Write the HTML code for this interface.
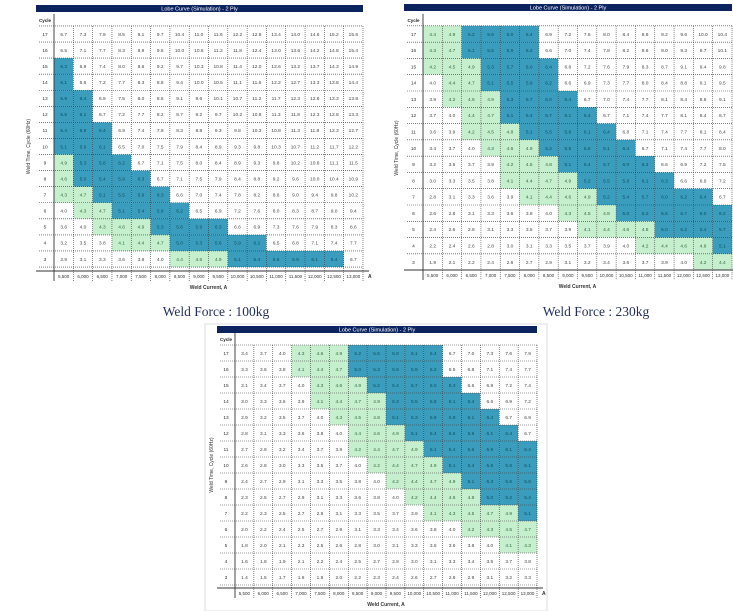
<!DOCTYPE html>
<html><head><meta charset="utf-8">
<style>
html,body{margin:0;padding:0;background:#fff;width:733px;height:611px;overflow:hidden}
svg{display:block}
text{font-family:"Liberation Sans",sans-serif}
.cap{font-family:"Liberation Serif",serif;font-size:13.5px;fill:#1f2d5a}
</style></head>
<body>
<svg id="chart" width="733" height="611" viewBox="0 0 733 611">
<rect x="205" y="324" width="342" height="287" fill="none" stroke="#ddd" stroke-width="1"/>
<text class="cap" x="216" y="316" text-anchor="middle">Weld Force : 100kg</text>
<text class="cap" x="596" y="316" text-anchor="middle">Weld Force : 230kg</text>
</svg>
<script>
const cycles = [17,16,15,14,13,12,11,10,9,8,7,6,5,4,3];
const currents = ["5,500","6,000","6,500","7,000","7,500","8,000","8,500","9,000","9,500","10,000","10,500","11,000","11,500","12,000","12,500","13,000"];
const greenMin = 4.1, tealMin = 5.0, tealMax = 6.4;
const values100 = [
[6.7,7.3,7.9,8.5,9.1,9.7,10.4,11.0,11.6,12.2,12.8,13.4,14.0,14.6,15.2,15.8],
[6.5,7.1,7.7,8.3,8.9,9.5,10.0,10.6,11.2,11.8,12.4,13.0,13.6,14.2,14.8,15.4],
[6.3,6.9,7.4,8.0,8.6,9.2,9.7,10.3,10.8,11.4,12.0,12.6,13.2,13.7,14.3,14.9],
[6.1,6.6,7.2,7.7,8.3,8.8,9.4,10.0,10.5,11.1,11.6,12.2,12.7,13.3,13.8,14.4],
[5.9,6.4,6.9,7.5,8.0,8.5,9.1,9.6,10.1,10.7,11.2,11.7,12.3,12.8,13.3,13.8],
[5.6,6.1,6.7,7.2,7.7,8.2,8.7,9.2,9.7,10.2,10.8,11.3,11.8,12.3,12.8,13.3],
[5.4,5.9,6.4,6.9,7.4,7.9,8.3,8.8,9.3,9.8,10.3,10.8,11.3,11.8,12.3,12.7],
[5.1,5.6,6.1,6.5,7.0,7.5,7.9,8.4,8.9,9.3,9.8,10.3,10.7,11.2,11.7,12.2],
[4.9,5.3,5.8,6.2,6.7,7.1,7.5,8.0,8.4,8.9,9.3,9.8,10.2,10.6,11.1,11.5],
[4.6,5.0,5.4,5.9,6.3,6.7,7.1,7.5,7.9,8.4,8.8,9.2,9.6,10.0,10.4,10.9],
[4.3,4.7,5.1,5.5,5.9,6.3,6.6,7.0,7.4,7.8,8.2,8.6,9.0,9.4,9.8,10.2],
[4.0,4.3,4.7,5.1,5.4,5.8,6.2,6.5,6.9,7.2,7.6,8.0,8.3,8.7,9.0,9.4],
[3.6,4.0,4.3,4.6,4.9,5.3,5.6,5.9,6.3,6.6,6.9,7.3,7.6,7.9,8.3,8.6],
[3.2,3.5,3.8,4.1,4.4,4.7,5.0,5.3,5.6,5.9,6.2,6.5,6.8,7.1,7.4,7.7],
[2.9,3.1,3.3,3.6,3.8,4.0,4.4,4.6,4.9,5.1,5.4,5.6,5.9,6.1,6.4,6.7]];
const values230 = [
[4.4,4.9,5.2,5.6,6.0,6.4,6.9,7.2,7.6,8.0,8.4,8.8,9.2,9.6,10.0,10.4],
[4.3,4.7,5.1,5.5,5.9,6.2,6.6,7.0,7.4,7.8,8.2,8.6,9.0,9.3,9.7,10.1],
[4.2,4.5,4.9,5.3,5.7,6.0,6.4,6.8,7.2,7.6,7.9,8.3,8.7,9.1,9.4,9.8],
[4.0,4.4,4.7,5.1,5.5,5.9,6.2,6.6,6.9,7.3,7.7,8.0,8.4,8.8,9.1,9.5],
[3.9,4.2,4.6,4.9,5.3,5.7,6.0,6.4,6.7,7.0,7.4,7.7,8.1,8.4,8.8,9.1],
[3.7,4.0,4.4,4.7,5.1,5.4,5.7,6.1,6.4,6.7,7.1,7.4,7.7,8.1,8.4,8.7],
[3.6,3.9,4.2,4.5,4.8,5.1,5.5,5.8,6.1,6.4,6.8,7.1,7.4,7.7,8.1,8.4],
[3.4,3.7,4.0,4.3,4.6,4.9,5.2,5.5,5.8,6.1,6.4,6.7,7.1,7.4,7.7,8.0],
[3.2,3.5,3.7,3.9,4.2,4.5,4.8,5.1,5.4,5.7,6.0,6.3,6.6,6.9,7.2,7.5],
[3.0,3.3,3.5,3.8,4.1,4.4,4.7,4.9,5.2,5.5,5.8,6.1,6.3,6.6,6.9,7.2],
[2.8,3.1,3.3,3.6,3.9,4.1,4.4,4.6,4.9,5.2,5.4,5.7,6.0,6.2,6.4,6.7],
[2.6,2.8,3.1,3.3,3.6,3.8,4.0,4.3,4.5,4.8,5.0,5.2,5.5,5.7,6.0,6.2],
[2.4,2.6,2.8,3.1,3.3,3.5,3.7,3.9,4.1,4.4,4.6,4.8,5.0,5.2,5.4,5.7],
[2.2,2.4,2.6,2.8,3.0,3.1,3.3,3.5,3.7,3.9,4.0,4.2,4.4,4.6,4.8,5.1],
[1.9,2.1,2.2,2.4,2.6,2.7,2.9,3.1,3.2,3.4,3.6,3.7,3.9,4.0,4.2,4.4]];
const valuesBottom = [
[3.4,3.7,4.0,4.3,4.6,4.9,5.2,5.5,5.8,6.1,6.4,6.7,7.0,7.3,7.6,7.9],
[3.3,3.6,3.8,4.1,4.4,4.7,5.0,5.3,5.6,5.9,6.2,6.5,6.8,7.1,7.4,7.7],
[3.1,3.4,3.7,4.0,4.3,4.6,4.9,5.2,5.4,5.7,6.0,6.3,6.6,6.9,7.2,7.4],
[3.0,3.3,3.6,3.9,4.1,4.4,4.7,4.9,5.3,5.5,5.8,6.1,6.4,6.6,6.9,7.2],
[2.9,3.2,3.5,3.7,4.0,4.3,4.5,4.8,5.1,5.3,5.6,5.9,6.1,6.4,6.7,6.9],
[2.8,3.1,3.3,3.6,3.8,4.0,4.4,4.6,4.9,5.1,5.4,5.6,5.9,6.1,6.4,6.7],
[2.7,2.9,3.2,3.4,3.7,3.9,4.2,4.4,4.7,4.9,5.1,5.4,5.6,5.9,6.1,6.4],
[2.6,2.8,3.0,3.3,3.5,3.7,4.0,4.2,4.4,4.7,4.9,5.1,5.4,5.6,5.8,6.1],
[2.4,2.7,2.9,3.1,3.3,3.5,3.8,4.0,4.2,4.4,4.7,4.9,5.1,5.3,5.6,5.8],
[2.3,2.5,2.7,2.9,3.1,3.3,3.6,3.8,4.0,4.2,4.4,4.6,4.8,5.0,5.2,5.4],
[2.2,2.3,2.5,2.7,2.9,3.1,3.3,3.5,3.7,3.9,4.1,4.3,4.5,4.7,4.9,5.1],
[2.0,2.2,2.4,2.5,2.7,2.9,3.1,3.3,3.4,3.6,3.8,4.0,4.2,4.3,4.5,4.7],
[1.8,2.0,2.1,2.3,2.5,2.6,2.8,3.0,3.1,3.3,3.5,3.6,3.8,4.0,4.1,4.3],
[1.6,1.8,1.9,2.1,2.2,2.4,2.5,2.7,2.8,3.0,3.1,3.3,3.4,3.5,3.7,3.8],
[1.4,1.5,1.7,1.8,1.9,2.0,2.2,2.3,2.4,2.6,2.7,2.8,2.9,3.1,3.2,3.3]];

const NS = "http://www.w3.org/2000/svg";
const svg = document.getElementById('chart');
function mk(tag, attrs, parent){const e=document.createElementNS(NS,tag);for(const k in attrs)e.setAttribute(k,attrs[k]);(parent||svg).appendChild(e);return e;}
function cellColor(v){ if(v>=tealMin && v<=tealMax) return '#3a9dbd'; if(v>=greenMin && v<tealMin) return '#c6efce'; return '#ffffff'; }
function cellText(v){ if(v>=tealMin && v<=tealMax) return '#0d4f5e'; if(v>=greenMin && v<tealMin) return '#2f6b3a'; return '#444'; }

function drawTable(cfg, values, name){
  const g = mk('g', {});
  
  
  const colW = (cfg.x1 - cfg.x0) / currents.length;
  const rowH = (cfg.yLast - cfg.yFirst) / (cycles.length - 1);
  const xScale = i => cfg.x0 + i * colW;
  const yScale = i => cfg.yFirst + i * rowH - rowH / 2;
  const bar = mk('rect', {x:cfg.hx0, y:cfg.hy, width:cfg.x1-cfg.hx0, height:7, fill:'#0b2460'}, g);
  
  
  const tt = mk('text', {x:(cfg.hx0+cfg.x1)/2, y:cfg.hy+5.5, 'font-size':5.5, fill:'#fff', 'text-anchor':'middle'}, g);
  tt.textContent = cfg.title;
  
  
  const cy = mk('text', {x:(cfg.hx0+cfg.x0)/2, y:yScale(0)-4, 'font-size':4.5, 'font-weight':'bold', fill:'#222', 'text-anchor':'middle'}, g);
  cy.textContent = 'Cycle';
  
  
  cycles.forEach((c, r) => {
    const lab = mk('text', {x:(cfg.hx0+cfg.x0)/2, y:yScale(r)+rowH/2+1.8, 'font-size':4.8, fill:'#333', 'text-anchor':'middle'}, g);
    lab.textContent = c;
    
    
    values[r].forEach((v, ci) => {
      const rc = mk('rect', {x:xScale(ci), y:yScale(r), width:colW, height:rowH, fill:cellColor(v)}, g);
      
      
      const t = mk('text', {x:xScale(ci)+colW/2, y:yScale(r)+rowH/2+1.8, 'font-size':4.8, fill:cellText(v), 'text-anchor':'middle'}, g);
      t.textContent = v.toFixed(1);
      
      
    });
  });
  const top = yScale(0), bot = yScale(cycles.length - 1) + rowH;
  for (let r = 0; r <= cycles.length; r++) {
    const yy = top + r * rowH;
    mk('line', {x1:cfg.hx0+3, x2:cfg.x1, y1:yy, y2:yy, stroke:'#333', 'stroke-width':0.6, 'stroke-dasharray':'1 1'}, g);
  }
  for (let i = 1; i <= currents.length; i++) {
    mk('line', {x1:xScale(i), x2:xScale(i), y1:top, y2:cfg.axisY+10, stroke:'#333', 'stroke-width':0.6, 'stroke-dasharray':'1 1'}, g);
  }
  mk('line', {x1:cfg.x0, x2:cfg.x0, y1:top-12, y2:cfg.axisY+10, stroke:'#333', 'stroke-width':0.9}, g);
  mk('line', {x1:cfg.hx0, x2:cfg.x1+6, y1:cfg.axisY, y2:cfg.axisY, stroke:'#333', 'stroke-width':0.9}, g);
  currents.forEach((c, i) => {
    const t = mk('text', {x:xScale(i)+colW/2, y:cfg.axisY+7, 'font-size':4.5, fill:'#333', 'text-anchor':'middle'}, g);
    t.textContent = c;
    
    
  });
  const a = mk('text', {x:cfg.x1+5, y:cfg.axisY+7, 'font-size':5, fill:'#333', 'font-weight':'bold'}, g);
  a.textContent = 'A';
  const xt = mk('text', {x:(cfg.x0+cfg.x1)/2, y:cfg.axisY+18, 'font-size':5, 'font-weight':'bold', fill:'#333', 'text-anchor':'middle'}, g);
  xt.textContent = 'Weld Current, A';
  
  
  const midY = (top + bot) / 2;
  const yt = mk('text', {x:cfg.yTitleX, y:midY, 'font-size':5, fill:'#333', 'text-anchor':'middle', transform:'rotate(-90 '+cfg.yTitleX+' '+midY+')'}, g);
  yt.textContent = 'Weld Time, Cycle (60Hz)';
  
  
}
drawTable({hx0:36, hy:5, x0:54, x1:363, yFirst:34, yLast:259, axisY:271, yTitleX:30, title:'Lobe Curve (Simulation) - 2 Ply'}, values100, 'lobe-table-100kg');
drawTable({hx0:404, hy:4, x0:423, x1:732, yFirst:34, yLast:262, axisY:270, yTitleX:398, title:'Lobe Curve (Simulation) - 2 Ply'}, values230, 'lobe-table-230kg');
drawTable({hx0:217, hy:326, x0:235, x1:537, yFirst:353, yLast:577, axisY:588, yTitleX:213, title:'Lobe Curve (Simulation) - 2 Ply'}, valuesBottom, 'lobe-table-bottom');
</script>
</body></html>
